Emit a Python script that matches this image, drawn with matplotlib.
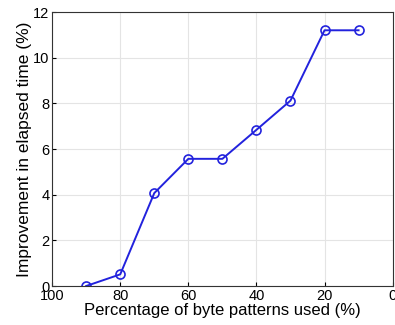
import matplotlib
matplotlib.use("Agg")
import matplotlib.pyplot as plt

pct_used = [90, 80, 70, 60, 50, 40, 30, 20, 10]
improvement = [0.0, 0.51, 4.07, 5.57, 5.57, 6.84, 8.12, 11.2, 11.2]
x_ticks = [100, 80, 60, 40, 20, 0]
y_ticks = [0, 2, 4, 6, 8, 10, 12]


def main():
    plt.rcParams['font.family'] = ['Liberation Sans', 'DejaVu Sans']
    fig = plt.figure(figsize=(3.95, 3.25), dpi=100)
    ax = fig.add_axes([0.132, 0.12, 0.862, 0.843])

    ax.plot(pct_used, improvement, '-o', color='#2222dd', linewidth=1.4,
            markersize=6.5, markerfacecolor='none', markeredgewidth=1.2)

    ax.set_xlim(100, 0)
    ax.set_ylim(0, 12)
    ax.set_xticks(x_ticks)
    ax.set_yticks(y_ticks)
    ax.grid(True, color='#e4e4e4', linewidth=0.8)
    ax.tick_params(direction='in', labelsize=10.5, length=3, pad=2)
    for s in ax.spines.values():
        s.set_linewidth(0.8)
        s.set_color('#333333')

    ax.set_xlabel('Percentage of byte patterns used (%)', fontsize=12, labelpad=0)
    ax.set_ylabel('Improvement in elapsed time (%)', fontsize=12.5, labelpad=1)

    fig.savefig('out.png', dpi=100)


if __name__ == "__main__":
    main()
